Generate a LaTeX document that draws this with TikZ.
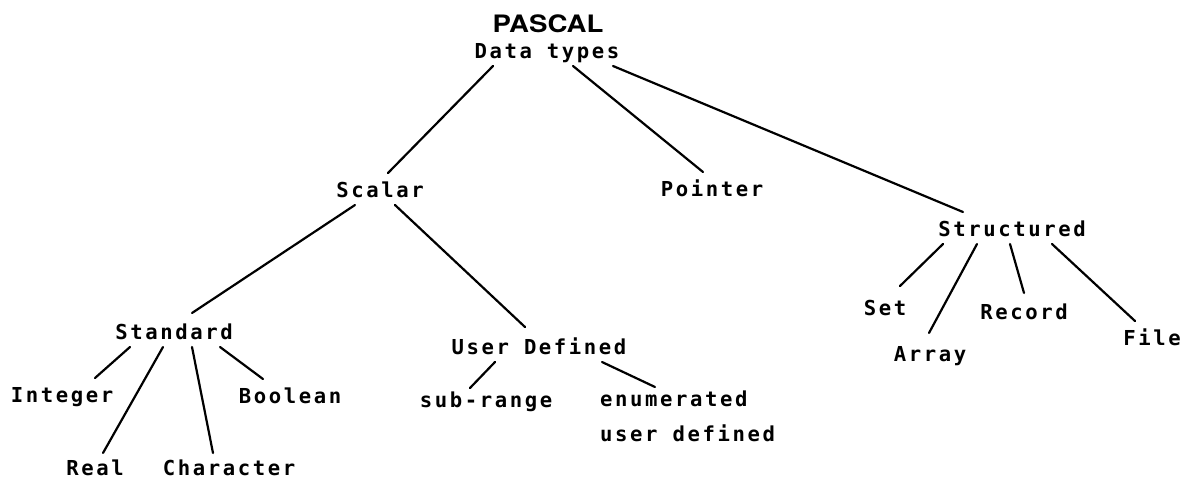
\documentclass[tikz,border=0pt]{standalone}
\usepackage{fontspec}
\newfontfamily\plotfont{DejaVu Sans Mono}[LetterSpace=12.6]
\newfontfamily\titlefont{TeX Gyre Heros}[FakeStretch=1.15]
\usetikzlibrary{positioning,calc}

\begin{document}
\begin{tikzpicture}[
    x=1pt, y=-1pt,
    word/.style={inner sep=0pt, outer sep=4pt, anchor=base, text height=20pt, text depth=4pt, font=\plotfont\bfseries\fontsize{20.6pt}{24pt}\selectfont},
    title/.style={inner sep=0pt, anchor=base, font=\titlefont\bfseries\fontsize{24pt}{28pt}\selectfont},
    branch/.style={line width=2.2pt, line cap=round}
]
\useasboundingbox (0,0) rectangle (1192,479);

% Root
\node[title] (pascal) at (548,32) {PASCAL};
\node[word] (types) at (547,58) {Data types};

% Level 1
\node[word] (scalar) at (380,197) {Scalar};
\node[word] (pointer) at (712,196) {Pointer};
\node[word] (struct) at (1012,236) {Structured};

% Level 2 (scalar)
\node[word] (std) at (174,339) {Standard};
\node[word] (user) at (539,354) {User Defined};

% Leaves of Standard
\node[word] (int) at (62,402) {Integer};
\node[word] (bool) at (290,403) {Boolean};
\node[word] (real) at (95,475) {Real};
\node[word] (char) at (229,475) {Character};

% Leaves of User Defined
\node[word] (subr) at (486,407) {sub-range};
\node[inner sep=0pt, anchor=north west, align=left, font=\plotfont\bfseries\fontsize{20.6pt}{35pt}\selectfont] (enum) at (600,391) {enumerated\\user defined};

% Leaves of Structured
\node[word] (set) at (885,315) {Set};
\node[word] (array) at (930,361) {Array};
\node[word] (record) at (1024,319) {Record};
\node[word] (file) at (1152,345) {File};

% Branches
\draw[branch] ([xshift=-54pt]types.south) -- ([xshift=8pt]scalar.north);
\draw[branch] ([xshift=26pt]types.south) -- ([xshift=-9pt]pointer.north);
\draw[branch] ([xshift=66pt]types.south) -- ([xshift=-49pt]struct.north);

\draw[branch] ([xshift=-25pt]scalar.south) -- ([xshift=18pt,yshift=2pt]std.north);
\draw[branch] ([xshift=15pt]scalar.south) -- ([xshift=-14pt,yshift=3pt]user.north);

\draw[branch] ([xshift=-44pt]std.south) -- ([xshift=33pt]int.north);
\draw[branch] ([xshift=-11pt]std.south) -- ([xshift=8pt,yshift=-2pt]real.north);
\draw[branch] ([xshift=18pt]std.south) -- ([xshift=-16pt,yshift=-2pt]char.north);
\draw[branch] ([xshift=46pt]std.south) -- ([xshift=-27pt]bool.north);

\draw[branch] ([xshift=-44pt]user.south) -- ([xshift=-16pt,yshift=-5pt]subr.north);
\draw[branch] ([xshift=63pt]user.south) -- ([xshift=55pt,yshift=4pt]enum.north west);

\draw[branch] ([xshift=-69pt]struct.south) -- ([xshift=15pt,yshift=5pt]set.north);
\draw[branch] ([xshift=-35pt]struct.south) -- ([xshift=-1pt,yshift=4pt]array.north);
\draw[branch] ([xshift=-2pt]struct.south) -- ([yshift=2pt]record.north);
\draw[branch] ([xshift=40pt]struct.south) -- ([xshift=-17pt]file.north);

\end{tikzpicture}
\end{document}
